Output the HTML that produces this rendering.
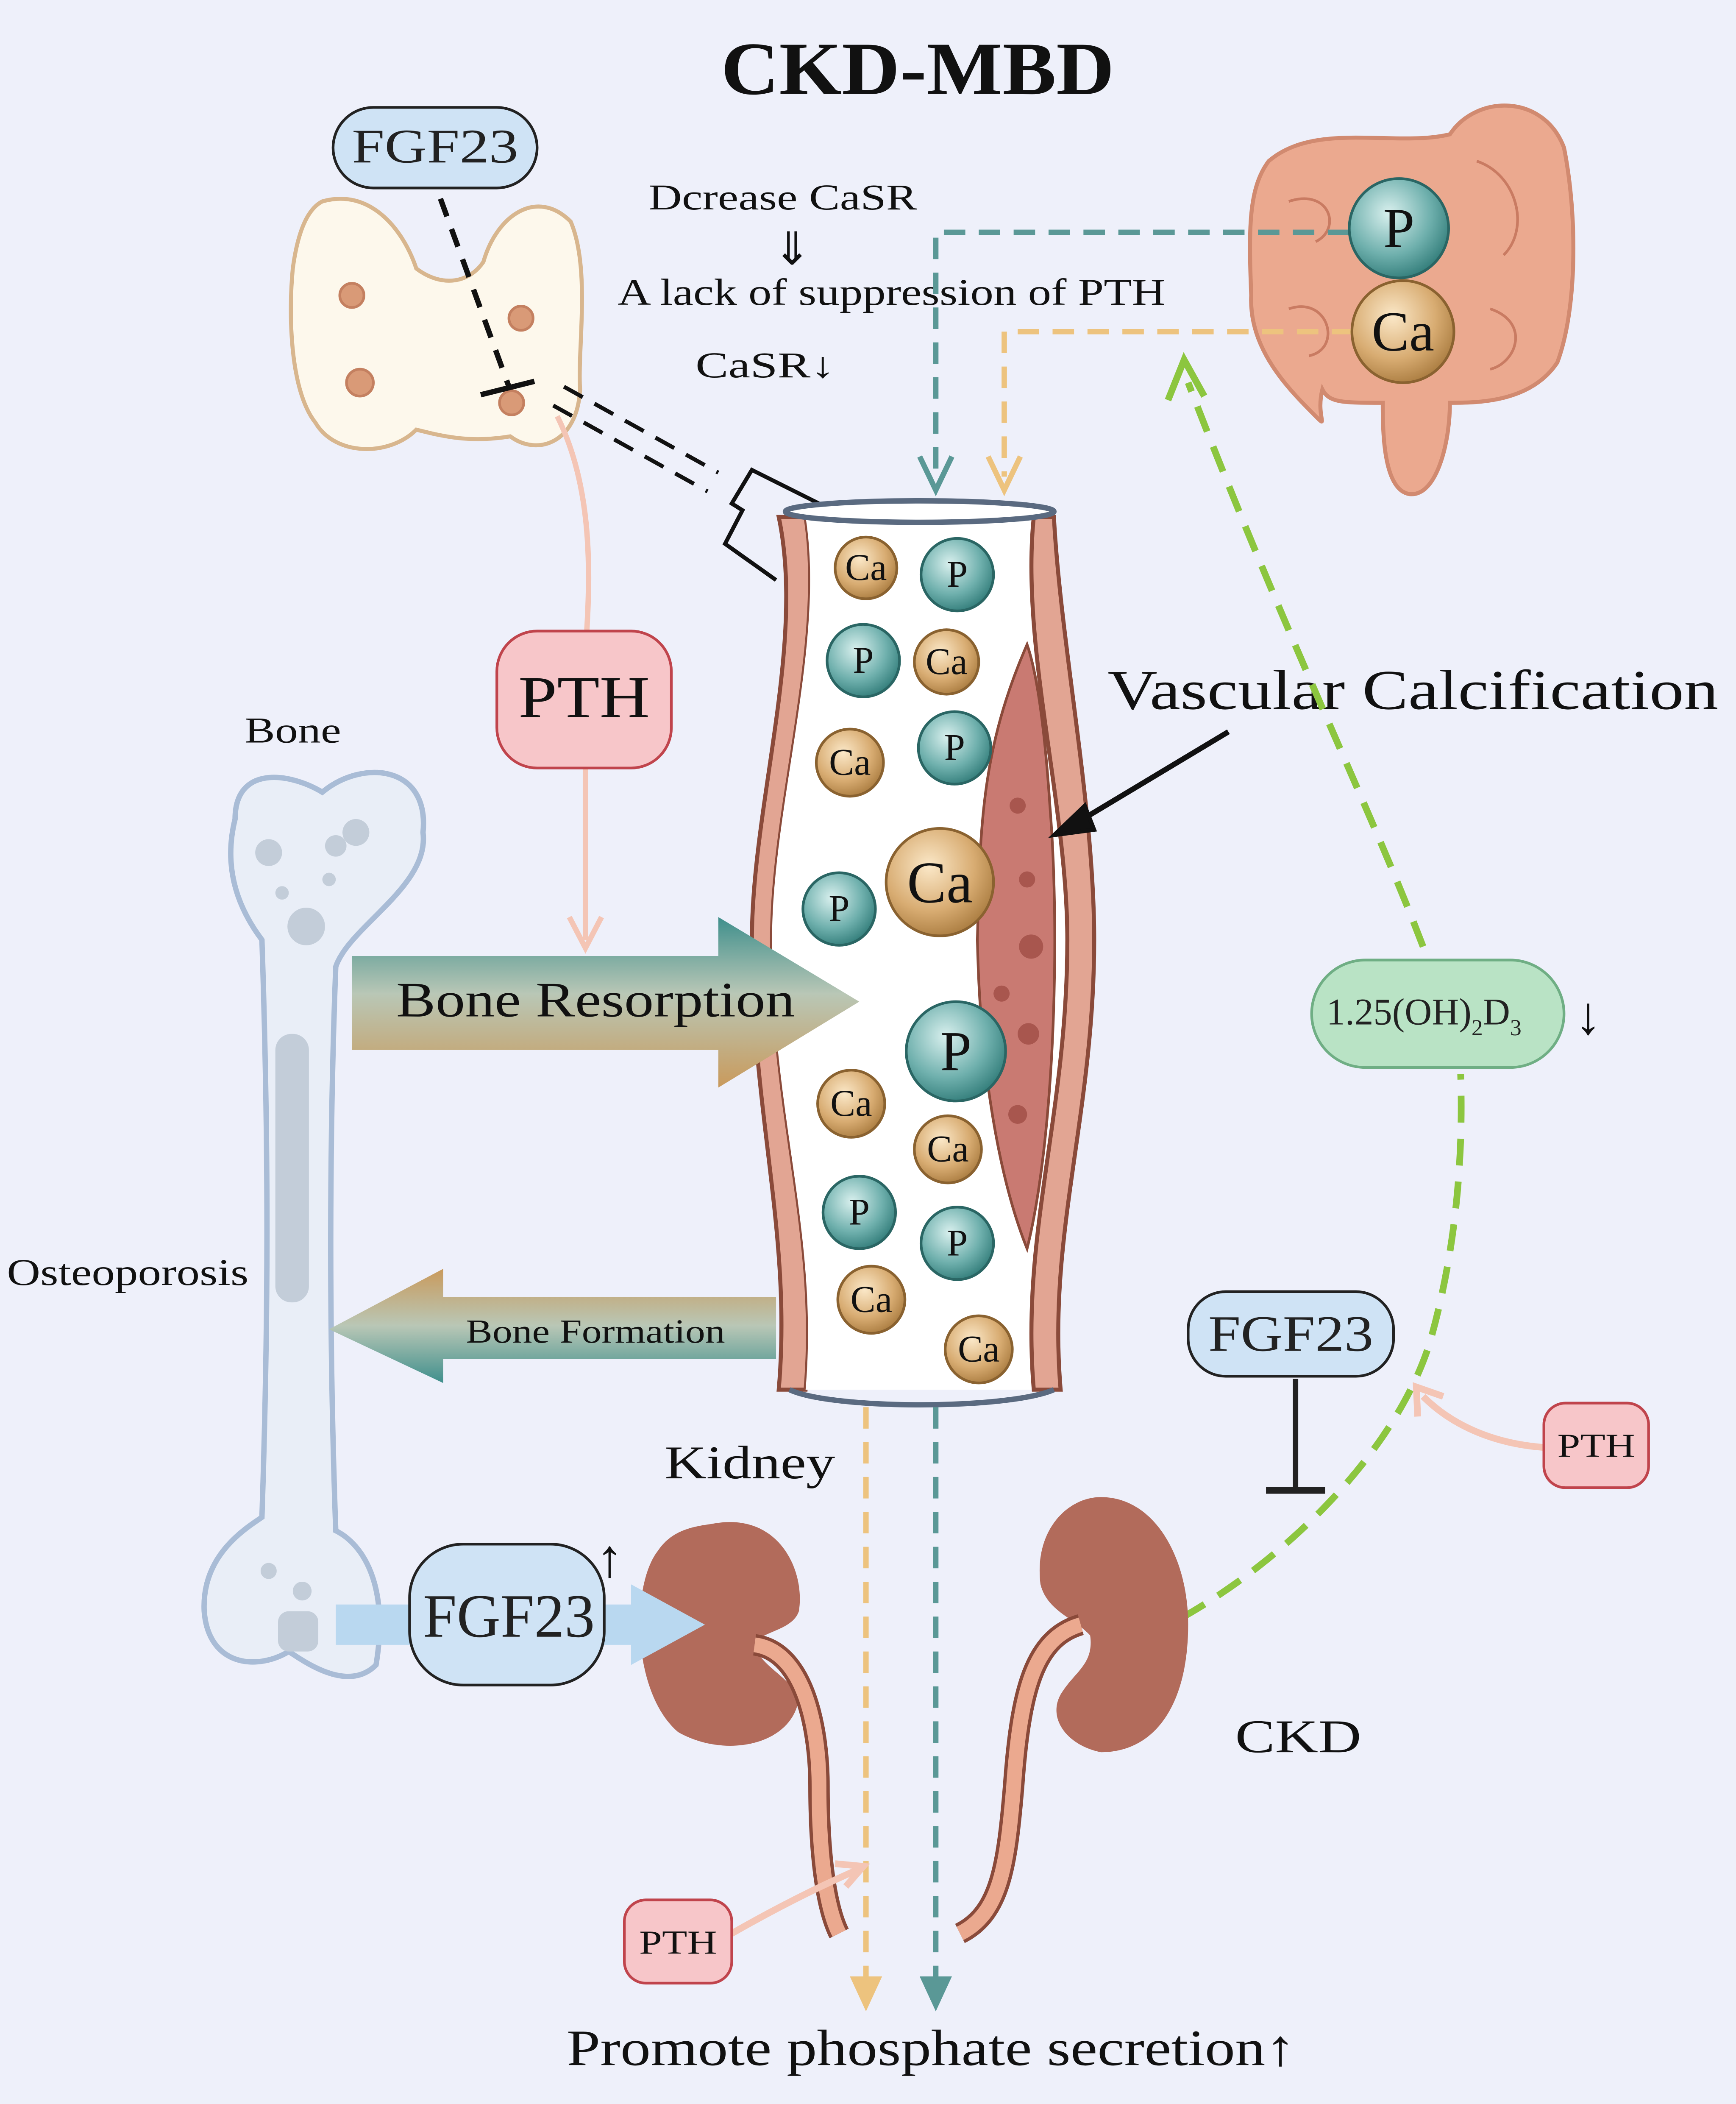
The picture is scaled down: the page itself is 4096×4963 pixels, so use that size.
<!DOCTYPE html>
<html><head><meta charset="utf-8"><style>
html,body{margin:0;padding:0;background:#eef0fa;}
svg{display:block}
text{font-family:"Liberation Serif",serif;}
</style></head><body>
<svg width="4096" height="4963" viewBox="0 0 1293 1567" xmlns="http://www.w3.org/2000/svg">
<defs>
<radialGradient id="gP" cx="0.4" cy="0.35" r="0.7"><stop offset="0" stop-color="#d9f0ee"/><stop offset="0.6" stop-color="#6fb0ad"/><stop offset="1" stop-color="#2f7a77"/></radialGradient>
<radialGradient id="gC" cx="0.4" cy="0.35" r="0.7"><stop offset="0" stop-color="#fbe8c8"/><stop offset="0.6" stop-color="#d8ac72"/><stop offset="1" stop-color="#a87a3e"/></radialGradient>
<linearGradient id="gArr" x1="0" y1="0" x2="0" y2="1"><stop offset="0" stop-color="#3f8f8c"/><stop offset="0.45" stop-color="#b9c7b6"/><stop offset="1" stop-color="#c99a5c"/></linearGradient>
<linearGradient id="gArr2" x1="0" y1="0" x2="0" y2="1"><stop offset="0" stop-color="#c99a5c"/><stop offset="0.5" stop-color="#b9c7b6"/><stop offset="1" stop-color="#3f8f8c"/></linearGradient>
</defs>
<rect width="1293" height="1567" fill="#eef0fa"/>
<text x="537" y="70" font-size="56" font-weight="bold" fill="#111" textLength="293" lengthAdjust="spacingAndGlyphs">CKD-MBD</text>

<!-- thyroid -->
<path d="M240,150 C275,140 300,170 310,200 C330,215 350,210 360,195 C370,160 400,140 425,165 C440,200 430,260 432,290 C430,330 400,340 380,325 C350,330 330,325 310,320 C290,340 250,340 235,315 C215,290 215,230 218,200 C222,170 230,155 240,150Z" fill="#fdf8ec" stroke="#d8b68e" stroke-width="3"/>
<g fill="#d99a77" stroke="#c48060" stroke-width="2"><circle cx="262" cy="220" r="9"/><circle cx="388" cy="237" r="9"/><circle cx="268" cy="285" r="10"/><circle cx="381" cy="300" r="9"/></g>
<rect x="248" y="80" width="152" height="60" rx="30" fill="#cfe3f5" stroke="#222" stroke-width="2"/>
<text x="262" y="121" font-size="36" fill="#222" textLength="124" lengthAdjust="spacingAndGlyphs">FGF23</text>
<line x1="328" y1="148" x2="379" y2="288" stroke="#111" stroke-width="4" stroke-dasharray="14,10"/>
<line x1="358" y1="294" x2="398" y2="284" stroke="#111" stroke-width="4"/>
<line x1="420" y1="288" x2="535" y2="352" stroke="#111" stroke-width="3" stroke-dasharray="16,10"/>
<line x1="412" y1="302" x2="527" y2="366" stroke="#111" stroke-width="3" stroke-dasharray="16,10"/>
<path d="M578,432 L540,405 L553,380 L545,375 L560,350 L610,375" fill="none" stroke="#111" stroke-width="3"/>

<text x="483" y="156" font-size="27" fill="#111" textLength="200" lengthAdjust="spacingAndGlyphs">Dcrease CaSR</text>
<text x="590" y="197" font-size="34" text-anchor="middle" fill="#111">⇓</text>
<text x="460" y="227" font-size="28" fill="#111" textLength="408" lengthAdjust="spacingAndGlyphs">A lack of suppression of PTH</text>
<text x="518" y="281" font-size="27" fill="#111" textLength="104" lengthAdjust="spacingAndGlyphs">CaSR↓</text>

<!-- intestine -->
<path d="M945,120 C980,90 1040,110 1080,100 C1100,70 1150,70 1165,110 C1175,160 1175,230 1160,270 C1140,300 1100,300 1080,300 C1080,330 1070,370 1050,368 C1030,365 1030,320 1030,300 C1000,300 990,300 985,290 C980,310 990,320 980,310 C960,290 930,260 932,220 C930,170 930,140 945,120Z" fill="#eba98f" stroke="#d18a70" stroke-width="3"/>
<path d="M960,150 C990,140 1000,170 980,180 M1100,120 C1130,130 1140,170 1120,190 M960,230 C990,220 1000,260 975,265 M1110,230 C1140,240 1130,270 1110,275" fill="none" stroke="#c97b62" stroke-width="2"/>

<path d="M1005,173 L697,173 L697,355" fill="none" stroke="#5a9896" stroke-width="4" stroke-dasharray="16,10"/>
<path d="M685,340 L697,365 L709,340" fill="none" stroke="#5a9896" stroke-width="4"/>
<path d="M1008,247 L748,247 L748,355" fill="none" stroke="#edc37e" stroke-width="4" stroke-dasharray="16,10"/>
<path d="M736,340 L748,365 L760,340" fill="none" stroke="#edc37e" stroke-width="4"/>
<circle cx="1042" cy="170" r="37" fill="url(#gP)" stroke="#2a6664" stroke-width="2"/>
<text x="1042" y="184" font-size="42" text-anchor="middle" fill="#111">P</text>
<circle cx="1045" cy="247" r="38" fill="url(#gC)" stroke="#8a6230" stroke-width="2"/>
<text x="1045" y="261" font-size="42" text-anchor="middle" fill="#111">Ca</text>

<!-- vessel -->
<path d="M580,385 C600,480 560,600 560,700 C560,830 590,920 580,1035 L600,1035 C610,920 575,830 575,700 C575,600 615,480 600,385Z" fill="#e2a593" stroke="#8a4a3a" stroke-width="3"/>
<path d="M600,385 C615,480 575,600 575,700 C575,830 610,920 600,1035 L770,1035 C760,920 795,830 795,700 C795,600 760,480 770,385Z" fill="#fff"/>
<path d="M770,385 C760,480 795,600 795,700 C795,830 760,920 770,1035 L790,1035 C780,920 815,830 815,700 C815,600 790,480 785,385Z" fill="#e2a593" stroke="#8a4a3a" stroke-width="3"/>
<path d="M765,480 C730,560 730,620 728,700 C730,800 745,880 765,930 C785,850 790,700 782,600 C778,540 772,500 765,480Z" fill="#c97a72" stroke="#8a4a3a" stroke-width="2"/>
<g fill="#a8564e"><circle cx="758" cy="600" r="6"/><circle cx="765" cy="655" r="6"/><circle cx="768" cy="705" r="9"/><circle cx="746" cy="740" r="6"/><circle cx="766" cy="770" r="8"/><circle cx="758" cy="830" r="7"/></g>
<ellipse cx="685" cy="381" rx="100" ry="8" fill="#fff" stroke="#5a6a80" stroke-width="4"/>
<path d="M588,1035 C620,1050 750,1050 785,1035" fill="none" stroke="#5a6a80" stroke-width="4"/>

<g font-size="28" text-anchor="middle" fill="#111">
<g stroke-width="2">
<circle cx="645" cy="423" r="23" fill="url(#gC)" stroke="#8a6230"/><text x="645" y="432">Ca</text>
<circle cx="713" cy="428" r="27" fill="url(#gP)" stroke="#2a6664"/><text x="713" y="437">P</text>
<circle cx="643" cy="492" r="27" fill="url(#gP)" stroke="#2a6664"/><text x="643" y="501">P</text>
<circle cx="705" cy="493" r="24" fill="url(#gC)" stroke="#8a6230"/><text x="705" y="502">Ca</text>
<circle cx="633" cy="568" r="25" fill="url(#gC)" stroke="#8a6230"/><text x="633" y="577">Ca</text>
<circle cx="711" cy="557" r="27" fill="url(#gP)" stroke="#2a6664"/><text x="711" y="566">P</text>
<circle cx="625" cy="677" r="27" fill="url(#gP)" stroke="#2a6664"/><text x="625" y="686">P</text>
<circle cx="700" cy="657" r="40" fill="url(#gC)" stroke="#8a6230"/><text x="700" y="672" font-size="44">Ca</text>
<circle cx="712" cy="783" r="37" fill="url(#gP)" stroke="#2a6664"/><text x="712" y="797" font-size="42">P</text>
<circle cx="634" cy="822" r="25" fill="url(#gC)" stroke="#8a6230"/><text x="634" y="831">Ca</text>
<circle cx="706" cy="856" r="25" fill="url(#gC)" stroke="#8a6230"/><text x="706" y="865">Ca</text>
<circle cx="640" cy="903" r="27" fill="url(#gP)" stroke="#2a6664"/><text x="640" y="912">P</text>
<circle cx="713" cy="926" r="27" fill="url(#gP)" stroke="#2a6664"/><text x="713" y="935">P</text>
<circle cx="649" cy="968" r="25" fill="url(#gC)" stroke="#8a6230"/><text x="649" y="977">Ca</text>
<circle cx="729" cy="1005" r="25" fill="url(#gC)" stroke="#8a6230"/><text x="729" y="1014">Ca</text>
</g></g>

<text x="825" y="528" font-size="42" fill="#111" textLength="455" lengthAdjust="spacingAndGlyphs">Vascular Calcification</text>
<line x1="915" y1="545" x2="800" y2="614" stroke="#111" stroke-width="4"/>
<path d="M785,622 L808,600 L815,618Z" fill="#111" stroke="#111" stroke-width="3"/>

<path d="M880,1205 C960,1160 1040,1080 1065,1000 C1085,930 1090,860 1088,800" fill="none" stroke="#8cc63f" stroke-width="5" stroke-dasharray="20,12"/>
<path d="M1060,705 C1020,600 960,480 885,285" fill="none" stroke="#8cc63f" stroke-width="5" stroke-dasharray="20,12"/>
<path d="M870,298 L882,268 L897,295" fill="none" stroke="#8cc63f" stroke-width="5"/>
<rect x="977" y="715" width="188" height="80" rx="40" fill="#b9e3c5" stroke="#6fae84" stroke-width="2"/>
<text x="988" y="763" font-size="28" fill="#222">1.25(OH)<tspan font-size="17" dy="8">2</tspan><tspan dy="-8">D</tspan><tspan font-size="17" dy="8">3</tspan></text>
<text x="1183" y="770" font-size="40" text-anchor="middle" fill="#111">↓</text>

<path d="M415,310 C440,360 440,420 437,470" fill="none" stroke="#f4c5b5" stroke-width="4"/>
<line x1="436" y1="572" x2="436" y2="700" stroke="#f4c5b5" stroke-width="4"/>
<path d="M424,683 L436,706 L448,683" fill="none" stroke="#f4c5b5" stroke-width="4"/>
<rect x="370" y="470" width="130" height="102" rx="30" fill="#f7c6c9" stroke="#c0444c" stroke-width="2"/>
<text x="386" y="534" font-size="44" fill="#111" textLength="98" lengthAdjust="spacingAndGlyphs">PTH</text>

<text x="182" y="553" font-size="27" fill="#111" textLength="72" lengthAdjust="spacingAndGlyphs">Bone</text>
<path d="M175,610 C175,570 215,575 240,590 C270,565 320,570 315,620 C320,660 260,690 250,720 C245,850 245,1000 250,1140 C270,1150 290,1180 280,1240 C260,1260 230,1240 215,1230 C190,1245 155,1240 152,1200 C150,1160 180,1140 195,1130 C200,980 200,850 195,700 C180,680 165,650 175,610Z" fill="#e9eef7" stroke="#a9bcd6" stroke-width="4"/>
<g fill="#c3cdd9"><circle cx="200" cy="635" r="10"/><circle cx="228" cy="690" r="14"/><circle cx="250" cy="630" r="8"/><circle cx="265" cy="620" r="10"/><circle cx="210" cy="665" r="5"/><circle cx="245" cy="655" r="5"/><rect x="205" y="770" width="25" height="200" rx="12"/><rect x="207" y="1200" width="30" height="30" rx="8"/><circle cx="200" cy="1170" r="6"/><circle cx="225" cy="1185" r="7"/></g>
<text x="5" y="957" font-size="28" fill="#111" textLength="180" lengthAdjust="spacingAndGlyphs">Osteoporosis</text>

<path d="M262,712 L535,712 L535,683 L640,746 L535,810 L535,782 L262,782Z" fill="url(#gArr)"/>
<text x="295" y="757" font-size="37" fill="#111" textLength="297" lengthAdjust="spacingAndGlyphs">Bone Resorption</text>
<path d="M578,966 L330,966 L330,945 L245,990 L330,1030 L330,1012 L578,1012Z" fill="url(#gArr2)"/>
<text x="347" y="1000" font-size="25" fill="#111" textLength="193" lengthAdjust="spacingAndGlyphs">Bone Formation</text>

<text x="495" y="1101" font-size="35" fill="#111" textLength="127" lengthAdjust="spacingAndGlyphs">Kidney</text>
<path d="M530,1135 C580,1125 600,1170 595,1200 C590,1215 565,1215 562,1225 C565,1240 590,1250 595,1265 C590,1300 540,1310 505,1290 C470,1260 470,1180 490,1155 C500,1140 515,1137 530,1135Z" fill="#b26b5b"/>
<path d="M562,1225 C600,1230 610,1290 610,1330 C610,1380 615,1420 625,1440" fill="none" stroke="#8a4a3a" stroke-width="16"/>
<path d="M562,1225 C600,1230 610,1290 610,1330 C610,1380 615,1420 625,1440" fill="none" stroke="#eba98f" stroke-width="11"/>
<path d="M820,1115 C860,1115 885,1160 885,1210 C885,1270 860,1305 820,1305 C795,1300 780,1280 790,1262 C800,1245 815,1240 812,1218 C800,1205 780,1200 775,1180 C770,1140 795,1115 820,1115Z" fill="#b26b5b"/>
<path d="M805,1210 C770,1220 760,1260 755,1330 C750,1390 745,1425 715,1440" fill="none" stroke="#8a4a3a" stroke-width="16"/>
<path d="M805,1210 C770,1220 760,1260 755,1330 C750,1390 745,1425 715,1440" fill="none" stroke="#eba98f" stroke-width="11"/>
<text x="920" y="1305" font-size="35" fill="#111" textLength="94" lengthAdjust="spacingAndGlyphs">CKD</text>

<line x1="645" y1="1048" x2="645" y2="1485" stroke="#edc37e" stroke-width="4" stroke-dasharray="16,10"/>
<path d="M633,1472 L645,1498 L657,1472Z" fill="#edc37e"/>
<line x1="697" y1="1048" x2="697" y2="1485" stroke="#5a9896" stroke-width="4" stroke-dasharray="16,10"/>
<path d="M685,1472 L697,1498 L709,1472Z" fill="#5a9896"/>

<path d="M250,1195 L470,1195 L470,1180 L525,1210 L470,1240 L470,1225 L250,1225Z" fill="#b9d8f0"/>
<rect x="305" y="1150" width="145" height="105" rx="40" fill="#cfe3f5" stroke="#222" stroke-width="2"/>
<text x="315" y="1219" font-size="46" fill="#222" textLength="128" lengthAdjust="spacingAndGlyphs">FGF23</text>
<text x="454" y="1174" font-size="40" text-anchor="middle" fill="#111">↑</text>

<rect x="885" y="962" width="153" height="63" rx="28" fill="#cfe3f5" stroke="#222" stroke-width="2"/>
<text x="900" y="1006" font-size="38" fill="#222" textLength="123" lengthAdjust="spacingAndGlyphs">FGF23</text>
<line x1="965" y1="1027" x2="965" y2="1110" stroke="#222" stroke-width="4"/>
<line x1="943" y1="1110" x2="987" y2="1110" stroke="#222" stroke-width="5"/>
<path d="M1150,1078 C1110,1075 1080,1060 1060,1040" fill="none" stroke="#f4c5b5" stroke-width="5"/>
<path d="M1056,1055 L1055,1033 L1075,1040" fill="none" stroke="#f4c5b5" stroke-width="5"/>
<rect x="1150" y="1045" width="78" height="63" rx="16" fill="#f7c6c9" stroke="#c0444c" stroke-width="2"/>
<text x="1160" y="1085" font-size="25" fill="#111" textLength="58" lengthAdjust="spacingAndGlyphs">PTH</text>

<path d="M545,1440 C580,1420 610,1405 640,1392" fill="none" stroke="#f4c5b5" stroke-width="5"/>
<path d="M622,1388 L643,1390 L630,1405" fill="none" stroke="#f4c5b5" stroke-width="5"/>
<rect x="465" y="1415" width="80" height="62" rx="16" fill="#f7c6c9" stroke="#c0444c" stroke-width="2"/>
<text x="476" y="1455" font-size="25" fill="#111" textLength="58" lengthAdjust="spacingAndGlyphs">PTH</text>

<text x="422" y="1538" font-size="38" fill="#111" textLength="543" lengthAdjust="spacingAndGlyphs">Promote phosphate secretion↑</text>
</svg>
</body></html>
